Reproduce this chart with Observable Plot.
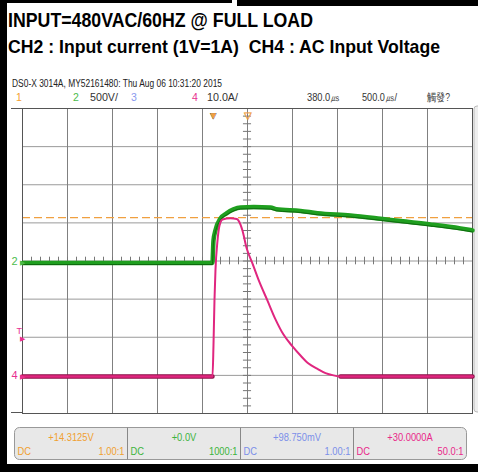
<!DOCTYPE html>
<html>
<head>
<meta charset="utf-8">
<script src="https://cdn.jsdelivr.net/npm/d3@7"></script>
<script src="https://cdn.jsdelivr.net/npm/@observablehq/plot@0.6"></script>
<style>
  html, body { margin: 0; padding: 0; background: #fff; }
  #wrap { position: relative; width: 478px; height: 472px; overflow: hidden; background: #fff; }
  #chrome, #plot { position: absolute; left: 0; top: 0; }
  text { font-family: "Liberation Sans", Arial, sans-serif; white-space: pre; }
</style>
</head>
<body>
<div id="wrap">
  <svg id="chrome" width="478" height="472"></svg>
  <div id="plot"></div>
</div>
<script>
// ---------- scope settings ----------
const timePerDiv = 500;        // µs / div
const hPosition = 380;         // µs (centre of screen)
const ch2VoltsPerDiv = 500;    // V / div
const ch4AmpsPerDiv = 10;      // A / div
const ch2OffsetDiv = -0.05;    // ground marker position (div)
const ch4OffsetDiv = -3.03;
const trigLevelDiv = 1.14;     // orange dashed level (div)
const trigMarkerDiv = -2.05;   // pink "T" marker (div)

// ---------- CH2 trace (green) ----------
const ch2Time  = [-2120, -10, 2, 24, 80, 147, 224, 302, 450, 636, 700, 969, 1158, 1524, 1858, 2080, 2413, 2747, 2880];
const ch2Volts = [0, 0, 295, 427, 584, 650, 702, 728, 732, 726, 705, 682, 652, 623, 580, 549, 505, 453, 427];

// ---------- CH4 trace (pink) ----------
const ch4Time = [-2120, -9, 2, 13, 24, 47, 69, 102, 191, 260, 280, 324, 369, 436, 502, 602, 691, 780, 880, 969, 1058, 1158, 1247, 1336, 1413, 2880];
const ch4Amps = [0, 0, 8.1, 19.9, 27.8, 35.7, 39.6, 41.2, 41.5, 41.3, 40.9, 38.3, 33.8, 29.6, 25.4, 19.9, 15.0, 11.0, 7.9, 5.5, 3.4, 2.0, 0.9, 0.3, 0, 0];

// ---------- texts ----------
const titleLine1 = "INPUT=480VAC/60HZ @ FULL LOAD";
const titleLine2 = "CH2 : Input current (1V=1A)\u00a0 CH4 : AC Input Voltage";
const scopeInfo = "DS0-X 3014A, MY52161480: Thu Aug 06 10:31:20 2015";
const channelRow = [
  {t: "1", x: 16, w: 0, c: "#f5a030"},
  {t: "2", x: 73, w: 0, c: "#4cbc4c"},
  {t: "500V/", x: 90, w: 28, c: "#333"},
  {t: "3", x: 131, w: 0, c: "#8899ee"},
  {t: "4", x: 192, w: 0, c: "#e8308f"},
  {t: "10.0A/", x: 207, w: 31, c: "#333"},
  {t: "380.0㎲", x: 307, w: 33, c: "#333"},
  {t: "500.0㎲/", x: 362, w: 35, c: "#333"},
  {t: "觸發?", x: 427, w: 23, c: "#444"}
];
const panelValues = ["+14.3125V", "+0.0V", "+98.750mV", "+30.0000A"];
const panelCoupling = ["DC", "DC", "DC", "DC"];
const panelRatios = ["1.00:1", "1000:1", "1.00:1", "50.0:1"];
const panelColors = ["#f0a030", "#3cb43c", "#7b8fe8", "#e8288a"];

const green = "#1f9f1f", greenDark = "#0b5c0b", pink = "#e0267f", pinkDark = "#8e1049", orange = "#f0a040";

// ---------- chrome (frame, titles, panel) ----------
const chrome = d3.select("#chrome");
chrome.append("rect").attr("x", 0).attr("y", 0).attr("width", 232).attr("height", 3).attr("fill", "#000");
chrome.append("rect").attr("x", 237).attr("y", 0).attr("width", 241).attr("height", 6).attr("fill", "#000");
chrome.append("rect").attr("x", 0).attr("y", 0).attr("width", 7).attr("height", 472).attr("fill", "#000");
chrome.append("rect").attr("x", 0).attr("y", 464).attr("width", 478).attr("height", 8).attr("fill", "#000");
chrome.append("rect").attr("x", 474).attr("y", 106).attr("width", 8).attr("height", 306).attr("rx", 3)
  .attr("fill", "#eee").attr("stroke", "#bbb");
chrome.append("line").attr("x1", 11).attr("x2", 22).attr("y1", 108.5).attr("y2", 108.5).attr("stroke", "#555");
chrome.append("line").attr("x1", 11).attr("x2", 22).attr("y1", 412.5).attr("y2", 412.5).attr("stroke", "#555");

function txt(s, x, y, size, opts = {}) {
  const t = chrome.append("text").attr("x", x).attr("y", y).attr("font-size", size).text(s)
    .attr("fill", opts.fill || "#000");
  if (opts.bold) t.attr("font-weight", "bold");
  if (opts.len) t.attr("textLength", opts.len).attr("lengthAdjust", "spacingAndGlyphs");
  if (opts.anchor) t.attr("text-anchor", opts.anchor);
  return t;
}
txt(titleLine1, 8, 27, 21, {bold: true, len: 305});
txt(titleLine2, 8, 53, 19, {bold: true, len: 432});
txt(scopeInfo, 12, 87, 10, {len: 210, fill: "#222"});
channelRow.forEach(d => txt(d.t, d.x, 101, 10.5, {fill: d.c, len: d.w || null}));

// bottom panel
chrome.append("rect").attr("x", 14.5).attr("y", 427.5).attr("width", 452).attr("height", 32).attr("rx", 5)
  .attr("fill", "#e8e8e8").attr("stroke", "#999");
const cellW = 452 / 4;
const squeeze = x => `translate(${x},0) scale(0.85,1) translate(${-x},0)`;
panelValues.forEach((v, i) => {
  const x0 = 14.5 + i * cellW;
  if (i > 0) chrome.append("line").attr("x1", x0).attr("x2", x0).attr("y1", 427.5).attr("y2", 459.5).attr("stroke", "#888");
  txt(v, x0 + cellW / 2, 441, 11, {fill: panelColors[i], anchor: "middle"}).attr("transform", squeeze(x0 + cellW / 2));
  txt(panelCoupling[i], x0 + 3, 455, 11, {fill: panelColors[i]}).attr("transform", squeeze(x0 + 3));
  txt(panelRatios[i], x0 + cellW - 3, 455, 11, {fill: panelColors[i], anchor: "end"}).attr("transform", squeeze(x0 + cellW - 3));
});

// ---------- data tables ----------
const ch2 = ch2Time.map((t, i) => ({t, div: ch2OffsetDiv + ch2Volts[i] / ch2VoltsPerDiv}));
const ch4 = ch4Time.map((t, i) => ({t, div: ch4OffsetDiv + ch4Amps[i] / ch4AmpsPerDiv, amps: ch4Amps[i]}));
const ch4Flat = ch4.map((d, i) => (d.amps === 0 && (ch4[i - 1]?.amps === 0 || ch4[i + 1]?.amps === 0)) ? d : {t: d.t, div: NaN});

const xMin = hPosition - 5 * timePerDiv, xMax = hPosition + 5 * timePerDiv;
const vGrid = d3.range(-5, 6).map(i => hPosition + i * timePerDiv);
const hGrid = d3.range(-4, 5);
const minorY = d3.range(-4, 4.01, 0.2).map(v => +v.toFixed(2));
const minorX = d3.range(-5, 5.01, 0.2).map(v => hPosition + v * timePerDiv);
const tickHalfT = 0.09 * timePerDiv;

const chart = Plot.plot({
  width: 478,
  height: 472,
  marginLeft: 22,
  marginRight: 6,
  marginTop: 108,
  marginBottom: 59,
  x: {domain: [xMin, xMax], axis: null},
  y: {domain: [-4, 4], axis: null},
  style: {background: "transparent", overflow: "visible"},
  marks: [
    Plot.ruleY(hGrid, {stroke: "#9a9a9a", strokeWidth: 1}),
    Plot.ruleX(vGrid, {stroke: "#808080", strokeWidth: 1}),
    Plot.ruleY(minorY, {y: d => d, x1: hPosition - tickHalfT, x2: hPosition + tickHalfT, stroke: "#777"}),
    Plot.ruleX(minorX, {x: d => d, y1: -0.1, y2: 0.1, stroke: "#777"}),
    Plot.ruleY([trigLevelDiv], {stroke: orange, strokeWidth: 1.3, strokeDasharray: "8,4"}),
    Plot.frame({stroke: "#555"}),
    // CH2 green
    Plot.line(ch2, {x: "t", y: "div", curve: "monotone-x", stroke: green, strokeWidth: 4.5, strokeLinejoin: "round"}),
    Plot.line(ch2, {x: "t", y: "div", curve: "monotone-x", stroke: greenDark, strokeWidth: 1, dy: 1.6, strokeOpacity: 0.8}),
    // CH4 pink
    Plot.line(ch4Flat, {x: "t", y: "div", stroke: pinkDark, strokeWidth: 4.5}),
    Plot.line(ch4, {x: "t", y: "div", curve: "monotone-x", stroke: pink, strokeWidth: 2, strokeLinejoin: "round"}),
    Plot.line(ch4Flat, {x: "t", y: "div", stroke: pink, strokeWidth: 2}),
    // left markers
    Plot.text([ch2OffsetDiv], {y: d => d, frameAnchor: "left", text: () => "2", fill: "#4cbc4c", fontSize: 11, dx: -11, dy: -1}),
    Plot.text([ch2OffsetDiv], {y: d => d, frameAnchor: "left", text: () => "▶", fill: "#4cbc4c", fontSize: 7, dx: -3}),
    Plot.text([ch4OffsetDiv], {y: d => d, frameAnchor: "left", text: () => "4", fill: "#e8308f", fontSize: 11, dx: -11, dy: -1}),
    Plot.text([ch4OffsetDiv], {y: d => d, frameAnchor: "left", text: () => "▶", fill: "#e8308f", fontSize: 7, dx: -3}),
    Plot.text([trigMarkerDiv], {y: d => d, frameAnchor: "left", text: () => "T", fill: "#e8308f", fontSize: 9, dx: -6, dy: -8}),
    Plot.text([trigMarkerDiv], {y: d => d, frameAnchor: "left", text: () => "▶", fill: "#e8308f", fontSize: 7, dx: -3}),
    // top markers
    Plot.text([0], {x: d => d, frameAnchor: "top", text: () => "▼", fill: orange, stroke: "#222", strokeWidth: 0.5, fontSize: 10, dy: 3}),
    Plot.text([hPosition], {x: d => d, frameAnchor: "top", text: () => "▽", fill: orange, stroke: orange, strokeWidth: 0.4, fontSize: 10, dy: 3})
  ]
});
document.getElementById("plot").appendChild(chart);
</script>
</body>
</html>
